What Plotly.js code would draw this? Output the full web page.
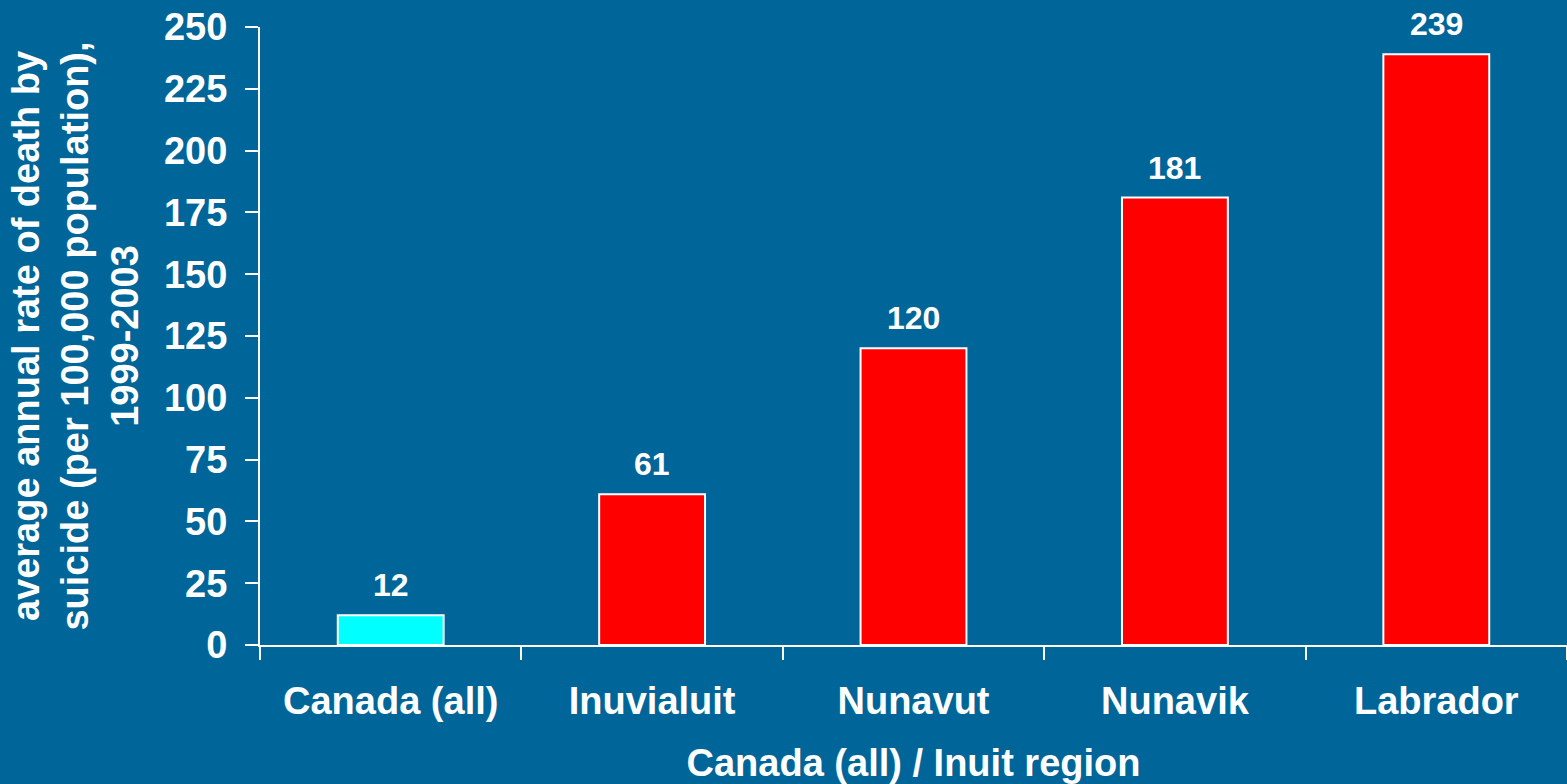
<!DOCTYPE html>
<html>
<head>
<meta charset="utf-8">
<script src="https://cdn.plot.ly/plotly-3.0.1.min.js"></script>
<style>html,body{margin:0;padding:0;background:#006699;}#chart{width:1567px;height:784px;}</style>
</head>
<body>
<div id="chart"></div>
<script>
const categories = ["Canada (all)", "Inuvialuit", "Nunavut", "Nunavik", "Labrador"];
const values = [12, 61, 120, 181, 239];
const barColors = ["#00FFFF", "#FF0000", "#FF0000", "#FF0000", "#FF0000"];
const yTickVals = [0, 25, 50, 75, 100, 125, 150, 175, 200, 225, 250];
const xTitle = "Canada (all) / Inuit region";
const yTitle = "average annual rate of death by<br>suicide (per 100,000 population),<br>1999-2003";

const FONT = "Arial, 'Liberation Sans', sans-serif";

const trace = {
  type: "bar",
  x: categories,
  y: values,
  marker: { color: barColors, line: { color: "#FFFFFF", width: 2 } },
  hoverinfo: "x+y"
};

const annotations = categories.map((c, i) => ({
  x: c, y: values[i], xref: "x", yref: "y",
  text: String(values[i]),
  showarrow: false, yanchor: "bottom", yshift: 10,
  font: { family: FONT, size: 32, color: "#FFFFFF", weight: "bold" }
}));

const layout = {
  width: 1567, height: 784,
  paper_bgcolor: "#006699", plot_bgcolor: "#006699",
  margin: { l: 260, r: 0, t: 27, b: 139, pad: 0 },
  showlegend: false,
  bargap: 0.595,
  font: { family: FONT, color: "#FFFFFF", weight: "bold" },
  xaxis: {
    type: "category",
    showline: true, linecolor: "#FFFFFF", linewidth: 2,
    showgrid: false, zeroline: false,
    ticks: "outside", tickson: "boundaries", ticklen: 13, tickwidth: 2, tickcolor: "#FFFFFF",
    ticklabelstandoff: 21,
    tickfont: { family: FONT, size: 38, color: "#FFFFFF", weight: "bold" },
    title: { text: xTitle, standoff: 31, font: { family: FONT, size: 38, color: "#FFFFFF", weight: "bold" } },
    automargin: false
  },
  yaxis: {
    range: [0, 250],
    tickvals: yTickVals,
    showline: true, linecolor: "#FFFFFF", linewidth: 2,
    showgrid: false, zeroline: false,
    ticks: "outside", ticklen: 13, tickwidth: 2, tickcolor: "#FFFFFF",
    ticklabelstandoff: 10,
    tickfont: { family: FONT, size: 38, color: "#FFFFFF", weight: "bold" },
    title: { text: yTitle, standoff: 14, font: { family: FONT, size: 38, color: "#FFFFFF", weight: "bold" } },
    automargin: false
  },
  annotations: annotations
};

Plotly.newPlot("chart", [trace], layout, { displayModeBar: false, staticPlot: true });
</script>
</body>
</html>
